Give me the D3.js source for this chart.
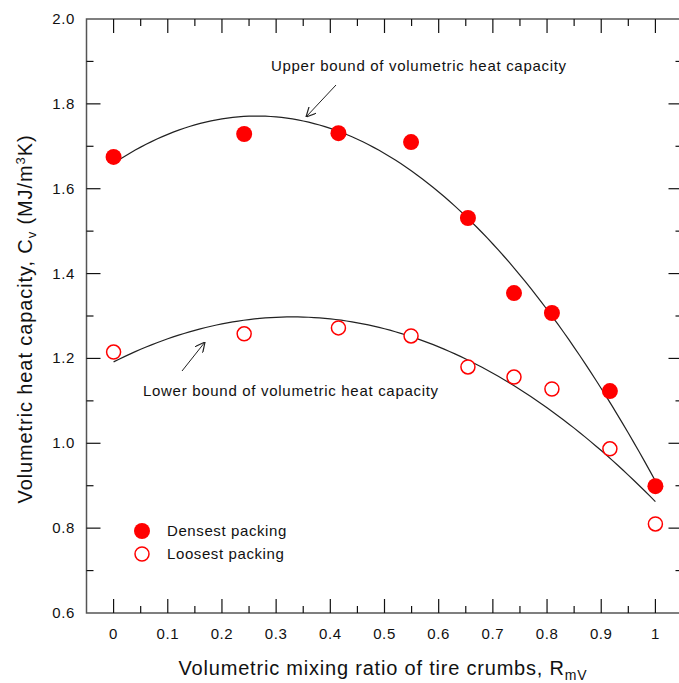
<!DOCTYPE html>
<html><head><meta charset="utf-8">
<script src="https://cdn.jsdelivr.net/npm/d3@7"></script>
<style>body{margin:0;background:#fff}svg{display:block}text{font-family:"Liberation Sans",Arial,sans-serif;fill:#111}</style>
</head><body>
<script>
const ratios = [0, 0.241, 0.415, 0.549, 0.654, 0.739, 0.809, 0.916, 1.0];
const densest = [1.675, 1.729, 1.731, 1.710, 1.531, 1.354, 1.307, 1.123, 0.899];
const loosest = [1.215, 1.258, 1.272, 1.253, 1.180, 1.156, 1.128, 0.987, 0.810];
const xTicks = [0, 0.1, 0.2, 0.3, 0.4, 0.5, 0.6, 0.7, 0.8, 0.9, 1];
const yTicks = [0.6, 0.8, 1.0, 1.2, 1.4, 1.6, 1.8, 2.0];

const W = 679, H = 683;
const svg = d3.select("body").append("svg").attr("width", W).attr("height", H);
const x = d3.scaleLinear().domain([-0.05, 1.05]).range([86.5, 682.5]);
const y = d3.scaleLinear().domain([0.6, 2.0]).range([613, 19]);

// frame
const axisCol = "#555";
svg.append("rect").attr("x", x(-0.05)).attr("y", y(2.0)).attr("width", x(1.05) - x(-0.05)).attr("height", y(0.6) - y(2.0))
  .attr("fill", "none").attr("stroke", axisCol).attr("stroke-width", 1.5);

const xMinor = d3.range(-0.05, 1.06, 0.05).map(v => +v.toFixed(2)).filter(v => v > -0.05 && v < 1.05);
const yMinor = d3.range(0.6, 2.01, 0.1).map(v => +v.toFixed(1));

function tickLen(v, majors) { return majors.some(m => Math.abs(m - v) < 1e-6) ? 14 : 7; }

const tg = svg.append("g").attr("stroke", "#111").attr("stroke-width", 1.2);
xMinor.forEach(v => {
  const L = tickLen(v, xTicks);
  tg.append("line").attr("x1", x(v)).attr("x2", x(v)).attr("y1", y(0.6)).attr("y2", y(0.6) - L);
  tg.append("line").attr("x1", x(v)).attr("x2", x(v)).attr("y1", y(2.0)).attr("y2", y(2.0) + L);
});
yMinor.forEach(v => {
  if (v <= 0.6 || v >= 2.0) return;
  const L = tickLen(v, yTicks);
  tg.append("line").attr("x1", x(-0.05)).attr("x2", x(-0.05) + L).attr("y1", y(v)).attr("y2", y(v));
  tg.append("line").attr("x1", x(1.05)).attr("x2", x(1.05) - L).attr("y1", y(v)).attr("y2", y(v));
});

// tick labels
svg.append("g").selectAll("text").data(xTicks).join("text")
  .attr("x", d => x(d)).attr("y", 639).attr("text-anchor", "middle").attr("font-size", 15).attr("letter-spacing", 0.6)
  .text(d => d3.format("~g")(d));
svg.append("g").selectAll("text").data(yTicks).join("text")
  .attr("x", 75).attr("y", d => y(d) + 5).attr("text-anchor", "end").attr("font-size", 15).attr("letter-spacing", 0.6)
  .text(d => d.toFixed(1));

// axis titles
const xt = svg.append("text").attr("x", 383).attr("y", 675).attr("text-anchor", "middle").attr("font-size", 20).attr("letter-spacing", 0.8);
xt.append("tspan").text("Volumetric mixing ratio of tire crumbs, R");
xt.append("tspan").attr("font-size", 14).attr("dy", 5).text("mV");

const yt = svg.append("text").attr("transform", "translate(32,319) rotate(-90)").attr("text-anchor", "middle").attr("font-size", 20).attr("letter-spacing", 0.9);
yt.append("tspan").text("Volumetric heat capacity, C");
yt.append("tspan").attr("font-size", 13).attr("dy", 4).text("v");
yt.append("tspan").attr("dy", -4).text(" (MJ/m");
yt.append("tspan").attr("font-size", 13).attr("dy", -7).text("3");
yt.append("tspan").attr("dy", 7).text("K)");

// least-squares polynomial fit (trendline)
function polyfit(xs, ys, deg) {
  const n = deg + 1;
  const A = Array.from({length: n}, () => new Array(n + 1).fill(0));
  for (let i = 0; i < xs.length; i++) {
    for (let r = 0; r < n; r++) {
      for (let c = 0; c < n; c++) A[r][c] += Math.pow(xs[i], r + c);
      A[r][n] += ys[i] * Math.pow(xs[i], r);
    }
  }
  for (let i = 0; i < n; i++) {
    let p = i;
    for (let k = i + 1; k < n; k++) if (Math.abs(A[k][i]) > Math.abs(A[p][i])) p = k;
    [A[i], A[p]] = [A[p], A[i]];
    for (let k = i + 1; k < n; k++) {
      const f = A[k][i] / A[i][i];
      for (let j = i; j <= n; j++) A[k][j] -= f * A[i][j];
    }
  }
  const c = new Array(n).fill(0);
  for (let i = n - 1; i >= 0; i--) {
    let s = A[i][n];
    for (let j = i + 1; j < n; j++) s -= A[i][j] * c[j];
    c[i] = s / A[i][i];
  }
  return t => c.reduce((acc, ci, k) => acc + ci * Math.pow(t, k), 0);
}
const fU = polyfit(ratios, densest, 2);
const fL = polyfit(ratios, loosest, 2);
const ts = d3.range(0, 1.0001, 0.01);
const line = d3.line().x(d => x(d[0])).y(d => y(d[1]));
svg.append("path").attr("d", line(ts.map(t => [t, fU(t)]))).attr("fill", "none").attr("stroke", "#222").attr("stroke-width", 1.2);
svg.append("path").attr("d", line(ts.map(t => [t, fL(t)]))).attr("fill", "none").attr("stroke", "#222").attr("stroke-width", 1.2);

// points
const red = "#ff0000";
svg.append("g").selectAll("circle").data(ratios).join("circle")
  .attr("cx", d => x(d)).attr("cy", (d, i) => y(densest[i])).attr("r", 8).attr("fill", red);
svg.append("g").selectAll("circle").data(ratios).join("circle")
  .attr("cx", d => x(d)).attr("cy", (d, i) => y(loosest[i])).attr("r", 7).attr("fill", "#fff").attr("stroke", red).attr("stroke-width", 1.5);

// annotations
const defs = svg.append("defs");
defs.append("marker").attr("id", "ah").attr("viewBox", "0 0 10 10").attr("refX", 10).attr("refY", 5)
  .attr("markerWidth", 10).attr("markerHeight", 10).attr("markerUnits", "userSpaceOnUse").attr("orient", "auto")
  .append("path").attr("d", "M0,0 L10,5 L0,10").attr("fill", "none").attr("stroke", "#222").attr("stroke-width", 1.2);
svg.append("line").attr("x1", 336).attr("y1", 85).attr("x2", 306).attr("y2", 117).attr("stroke", "#222").attr("stroke-width", 1).attr("marker-end", "url(#ah)");
svg.append("line").attr("x1", 182).attr("y1", 371).attr("x2", 205).attr("y2", 342).attr("stroke", "#222").attr("stroke-width", 1).attr("marker-end", "url(#ah)");
svg.append("text").attr("x", 271).attr("y", 71).attr("font-size", 15).attr("letter-spacing", 0.7).text("Upper bound of volumetric heat capacity");
svg.append("text").attr("x", 143).attr("y", 396).attr("font-size", 15).attr("letter-spacing", 0.7).text("Lower bound of volumetric heat capacity");

// legend
svg.append("circle").attr("cx", 142).attr("cy", 531).attr("r", 8).attr("fill", red);
svg.append("circle").attr("cx", 142).attr("cy", 554).attr("r", 7).attr("fill", "#fff").attr("stroke", red).attr("stroke-width", 1.5);
svg.append("text").attr("x", 167).attr("y", 536).attr("font-size", 15).attr("letter-spacing", 0.6).text("Densest packing");
svg.append("text").attr("x", 167).attr("y", 559).attr("font-size", 15).attr("letter-spacing", 0.6).text("Loosest packing");
</script>
</body></html>
